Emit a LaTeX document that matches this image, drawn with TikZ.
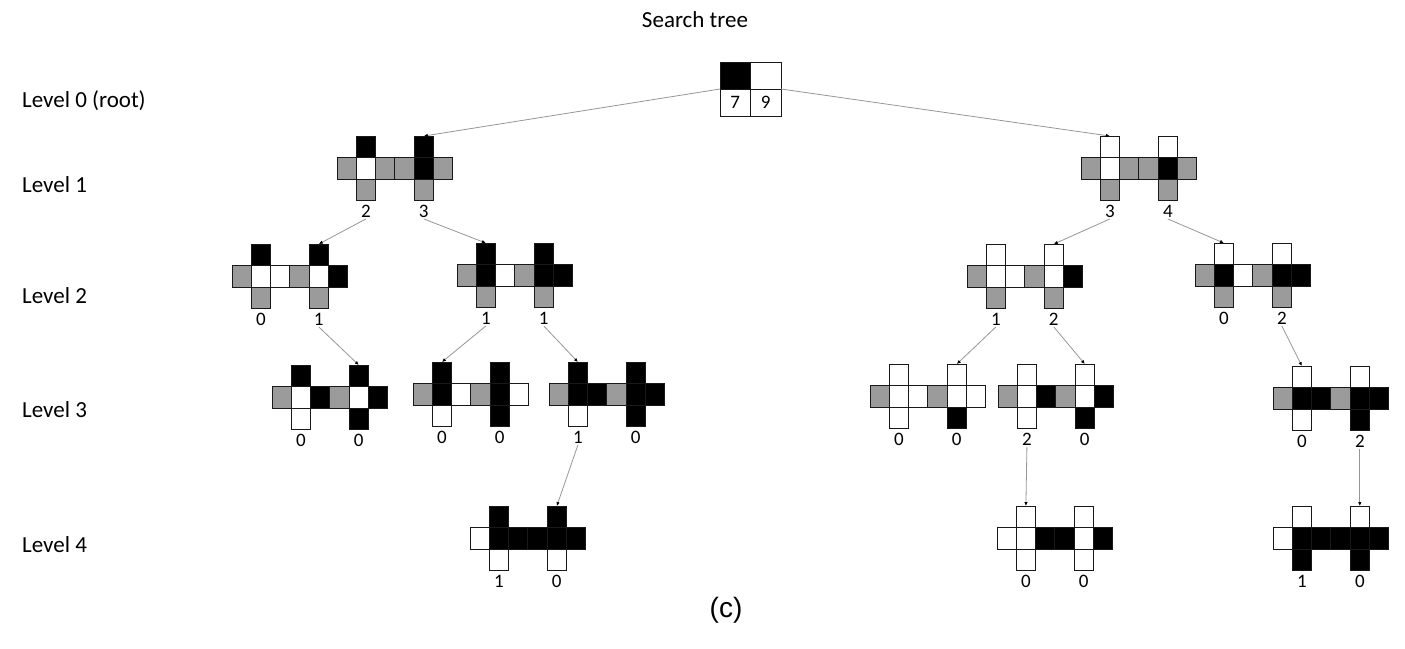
\documentclass[tikz,border=0pt]{standalone}
\usepackage{fontspec}
\setmainfont{Carlito}
\newfontfamily\capfont{Liberation Sans}
\usetikzlibrary{arrows.meta, positioning}

\definecolor{cellgray}{RGB}{155,155,155}
\definecolor{linkgray}{RGB}{150,150,150}

% one plus shape: name, x, y (centre of left cell), left, centre, right, top, bottom, value
\newcommand{\crossat}[9]{%
  \node[cell, fill=#4] (#1-l) at (#2,#3) {};
  \node[cell, fill=#5, right=0pt of #1-l] (#1-c) {};
  \node[cell, fill=#6, right=0pt of #1-c] (#1-r) {};
  \node[cell, fill=#7, above=0pt of #1-c] (#1-t) {};
  \node[cell, fill=#8, below=0pt of #1-c] (#1-b) {};
  \node[val, below=4pt of #1-b] (#1-n) {#9};
}

\begin{document}
\begin{tikzpicture}[x=1pt, y=-1pt,
    cell/.style={draw=black!90, line width=0.8pt, minimum width=19.3pt, minimum height=21.5pt, inner sep=0pt, outer sep=0pt},
    rootcell/.style={draw=black!90, line width=0.8pt, minimum width=30.5pt, minimum height=27pt, inner sep=0pt, outer sep=0pt, font=\fontsize{19}{22}\selectfont},
    val/.style={inner sep=1pt, text height=12pt, text depth=0pt, font=\fontsize{19}{22}\selectfont},
    level/.style={anchor=west, inner sep=0pt, font=\fontsize{23}{27}\selectfont},
    link/.style={draw=linkgray, line width=0.8pt, -{Latex[color=black, length=4pt, width=3.5pt]}}]
    \useasboundingbox (0,0) rectangle (1405,648);

    % Titles
    \node[font=\fontsize{23}{27}\selectfont] (title) at (695,20) {Search tree};
    \node[font=\capfont\fontsize{28}{32}\selectfont] (caption) at (726,610) {(c)};

    % Levels
    \node[level] (lv0) at (22,101) {Level 0 (root)};
    \node[level] (lv1) at (22,185) {Level 1};
    \node[level] (lv2) at (22,296) {Level 2};
    \node[level] (lv3) at (22,410) {Level 3};
    \node[level] (lv4) at (22,545) {Level 4};

    % Root
    \node[rootcell, fill=black] (rootl) at (735.25,75.5) {};
    \node[rootcell, fill=white, right=0pt of rootl] (rootr) {};
    \node[rootcell, below=0pt of rootl] (root7) {7};
    \node[rootcell, below=0pt of rootr] (root9) {9};

    % Level 1
    \crossat{a1a}{346.6}{168.3}{cellgray}{white}{cellgray}{black}{cellgray}{2}
    \crossat{a1b}{404.5}{168.3}{cellgray}{black}{cellgray}{black}{cellgray}{3}
    \crossat{b1a}{1090.6}{168.3}{cellgray}{white}{cellgray}{white}{cellgray}{3}
    \crossat{b1b}{1148.5}{168.3}{cellgray}{black}{cellgray}{white}{cellgray}{4}

    % Level 2
    \crossat{a2a}{241.6}{276.3}{cellgray}{white}{white}{black}{cellgray}{0}
    \crossat{a2b}{299.5}{276.3}{cellgray}{white}{black}{black}{cellgray}{1}
    \crossat{c2a}{466.6}{275.3}{cellgray}{black}{white}{black}{cellgray}{1}
    \crossat{c2b}{524.5}{275.3}{cellgray}{black}{black}{black}{cellgray}{1}
    \crossat{e2a}{976.6}{276.3}{cellgray}{white}{white}{white}{cellgray}{1}
    \crossat{e2b}{1034.5}{276.3}{cellgray}{white}{black}{white}{cellgray}{2}
    \crossat{g2a}{1204.6}{275.3}{cellgray}{black}{white}{white}{cellgray}{0}
    \crossat{g2b}{1262.5}{275.3}{cellgray}{black}{black}{white}{cellgray}{2}

    % Level 3
    \crossat{a3a}{281.6}{397.3}{cellgray}{white}{black}{black}{white}{0}
    \crossat{a3b}{339.5}{397.3}{cellgray}{white}{black}{black}{black}{0}
    \crossat{c3a}{422.6}{394.3}{cellgray}{black}{white}{black}{white}{0}
    \crossat{c3b}{480.5}{394.3}{cellgray}{black}{white}{black}{black}{0}
    \crossat{d3a}{558.6}{394.3}{cellgray}{black}{black}{black}{white}{1}
    \crossat{d3b}{616.5}{394.3}{cellgray}{black}{black}{black}{black}{0}
    \crossat{e3a}{879.6}{396.3}{cellgray}{white}{white}{white}{white}{0}
    \crossat{e3b}{937.5}{396.3}{cellgray}{white}{white}{white}{black}{0}
    \crossat{f3a}{1007.6}{396.3}{cellgray}{white}{black}{white}{white}{2}
    \crossat{f3b}{1065.5}{396.3}{cellgray}{white}{black}{white}{black}{0}
    \crossat{g3a}{1282.6}{398.3}{cellgray}{black}{black}{white}{white}{0}
    \crossat{g3b}{1340.5}{398.3}{cellgray}{black}{black}{white}{black}{2}

    % Level 4
    \crossat{d4a}{479.6}{538.3}{white}{black}{black}{black}{white}{1}
    \crossat{d4b}{537.5}{538.3}{black}{black}{black}{black}{white}{0}
    \crossat{f4a}{1006.6}{538.3}{white}{white}{black}{white}{white}{0}
    \crossat{f4b}{1064.5}{538.3}{black}{white}{black}{white}{white}{0}
    \crossat{g4a}{1282.6}{538.3}{white}{black}{black}{white}{black}{1}
    \crossat{g4b}{1340.5}{538.3}{black}{black}{black}{white}{black}{0}

    % Arrows
    \draw[link] (root7.north west) -- (a1b-t.north);
    \draw[link] (root9.north east) -- (b1a-t.north);
    \draw[link] (a1a-n.south) -- (a2b-t.north);
    \draw[link] (a1b-n.south) -- (c2a-t.north);
    \draw[link] (b1a-n.south) -- (e2b-t.north);
    \draw[link] (b1b-n.south) -- (g2a-t.north);
    \draw[link] (a2b-n.south) -- (a3b-t.north);
    \draw[link] (c2a-n.south) -- (c3a-t.north);
    \draw[link] (c2b-n.south) -- (d3a-t.north);
    \draw[link] (e2a-n.south) -- (e3b-t.north);
    \draw[link] (e2b-n.south) -- (f3b-t.north);
    \draw[link] (g2b-n.south) -- (g3a-t.north);
    \draw[link] (d3a-n.south) -- (d4b-t.north);
    \draw[link] (f3a-n.south) -- (f4a-t.north);
    \draw[link] (g3b-n.south) -- (g4b-t.north);
\end{tikzpicture}
\end{document}
